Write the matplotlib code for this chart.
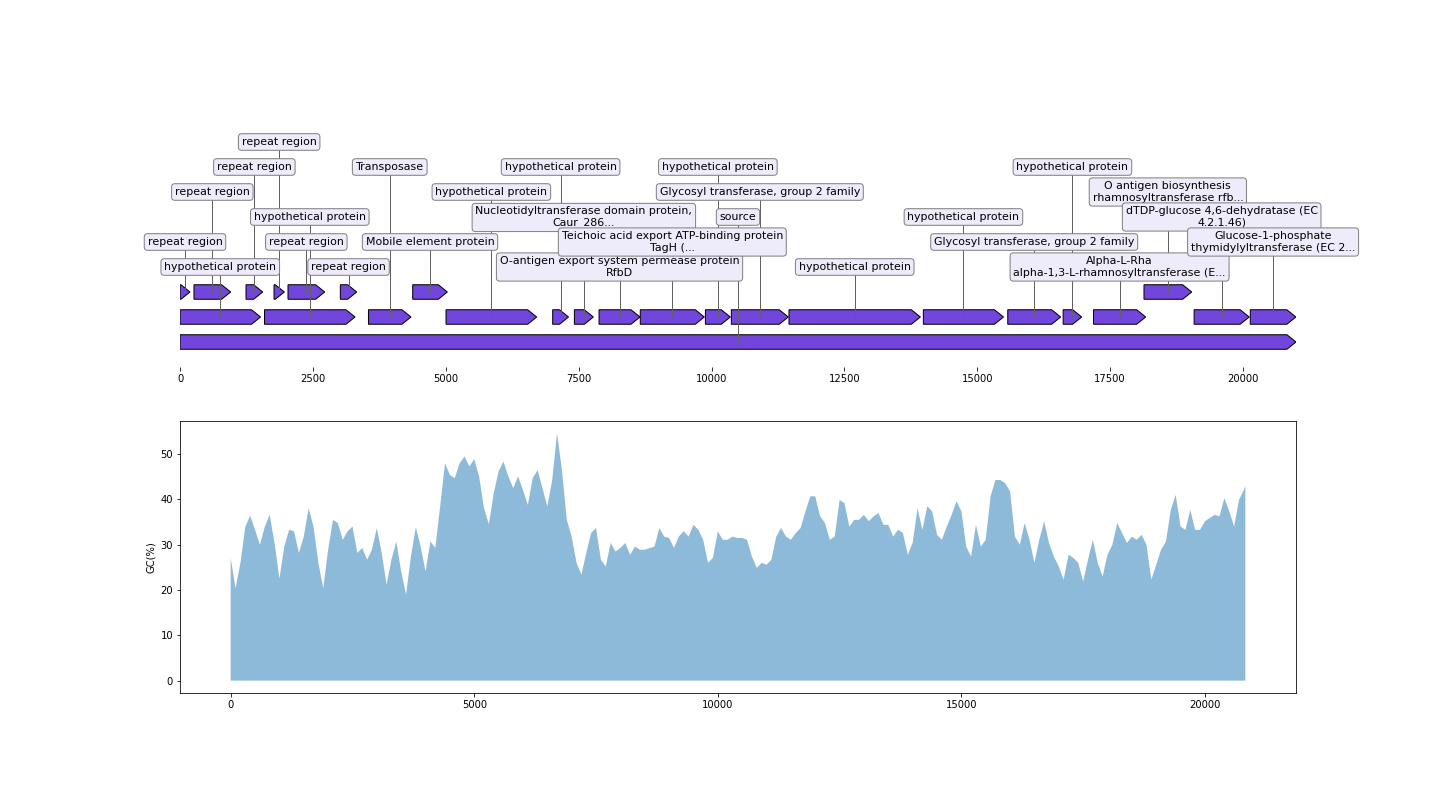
import numpy as np
import matplotlib
matplotlib.use('Agg')
import matplotlib.pyplot as plt
from matplotlib.patches import Polygon

SEQ_LEN = 20997

# features, in record order
feat_start = [0, 0, 0, 263, 1242, 1590, 1769, 2032, 3017, 3546, 4378, 5005, 7012,
              7420, 7884, 8660, 9885, 10373, 11458, 13986, 15574, 16616, 17187,
              18137, 19080, 20137]
feat_end = [20997, 188, 1515, 953, 1556, 3293, 1963, 2722, 3325, 4346, 5030, 6711, 7310,
            7777, 8655, 9865, 10354, 11445, 13930, 15494, 16569, 16965, 18169,
            19035, 20117, 20995]
feat_label = [
    'source', 'repeat region', 'hypothetical protein', 'repeat region', 'repeat region',
    'hypothetical protein', 'repeat region', 'repeat region', 'repeat region',
    'Transposase', 'Mobile element protein', 'hypothetical protein', 'hypothetical protein',
    'Nucleotidyltransferase domain protein,\nCaur_286...',
    'O-antigen export system permease protein\nRfbD',
    'Teichoic acid export ATP-binding protein\nTagH (...',
    'hypothetical protein', 'Glycosyl transferase, group 2 family',
    'hypothetical protein', 'hypothetical protein', 'Glycosyl transferase, group 2 family',
    'hypothetical protein', 'Alpha-L-Rha\nalpha-1,3-L-rhamnosyltransferase (E...',
    'O antigen biosynthesis\nrhamnosyltransferase rfb...',
    'dTDP-glucose 4,6-dehydratase (EC\n4.2.1.46)',
    'Glucose-1-phosphate\nthymidylyltransferase (EC 2...']
# row of the feature and row of its label
feat_row = [0, 2, 1, 2, 2, 1, 2, 2, 2, 1, 2, 1, 1, 1, 1, 1, 1, 1, 1, 1, 1, 1, 1, 2, 1, 1]
label_row = [5, 4, 3, 6, 7, 5, 8, 4, 3, 7, 4, 6, 7, 5, 3, 4, 7, 6, 3, 5, 4, 7, 3, 6, 5, 4]

# GC content (%), sampled every 100 bp
gc_values = [
    27.1, 20.4, 26.0, 34.0, 36.4, 33.3, 30.0, 34.0, 36.6, 30.4,
    22.5, 29.6, 33.3, 33.0, 28.2, 31.8, 38.1, 34.0, 26.0, 20.4,
    28.9, 35.5, 34.8, 31.1, 33.0, 34.0, 28.2, 29.3, 26.7, 28.9,
    33.7, 28.2, 21.2, 26.7, 30.7, 24.1, 19.0, 27.4, 33.9, 29.6,
    24.1, 30.7, 29.3, 38.5, 48.0, 45.4, 44.7, 48.0, 49.5, 47.3,
    48.9, 45.1, 38.1, 34.5, 41.4, 46.2, 48.4, 45.1, 42.5, 45.1,
    42.1, 38.8, 44.7, 46.5, 42.5, 38.5, 44.3, 54.6, 46.5, 35.5,
    31.8, 26.0, 23.4, 28.2, 32.6, 33.7, 26.7, 25.2, 30.4, 28.5,
    29.3, 30.4, 27.8, 29.6, 28.9, 28.9, 29.3, 29.6, 33.7, 31.8,
    31.5, 29.3, 31.8, 33.0, 31.8, 34.4, 33.3, 31.1, 26.0, 27.1,
    33.0, 31.1, 31.1, 31.8, 31.5, 31.5, 31.1, 27.4, 24.9, 26.0,
    25.6, 26.7, 31.8, 33.7, 31.8, 31.1, 32.6, 33.7, 37.4, 40.7,
    40.7, 36.3, 34.8, 31.1, 31.8, 39.9, 39.2, 34.0, 35.5, 35.5,
    36.6, 35.2, 36.3, 37.0, 34.4, 34.4, 31.8, 33.3, 32.6, 27.8,
    30.4, 38.1, 33.3, 38.5, 37.4, 32.2, 31.1, 34.0, 36.6, 39.6,
    37.4, 29.6, 27.4, 34.4, 29.6, 31.1, 40.7, 44.3, 44.3, 43.6,
    41.8, 31.8, 30.0, 34.8, 31.1, 26.0, 31.1, 35.2, 30.4, 27.4,
    25.2, 22.3, 27.8, 27.1, 26.0, 21.9, 26.7, 31.1, 26.0, 23.0,
    27.8, 30.0, 34.8, 32.6, 30.4, 31.8, 31.1, 32.2, 30.0, 22.3,
    25.6, 28.9, 30.7, 37.7, 41.0, 34.0, 33.3, 37.7, 33.3, 33.3,
    35.2, 35.9, 36.6, 36.3, 40.3, 37.4, 34.0, 39.9, 42.1, 43.0]
gc_pos = list(range(0, 20801, 100)) + [20830]

FEAT_COLOR = '#7245dc'
BOX_COLOR = '#eeebfa'
HALF_H = 0.29
HEAD = 170


def arrow_points(start, end, y):
    head = min(HEAD, end - start)
    return [(start, y - HALF_H), (end - head, y - HALF_H), (end, y),
            (end - head, y + HALF_H), (start, y + HALF_H)]


fig = plt.figure(figsize=(20, 11), dpi=72)
ax1 = fig.add_axes([0.125, 1 - 367 / 792, 0.775, 272 / 792])
ax2 = fig.add_axes([0.125, 1 - 693 / 792, 0.775, 272 / 792])

# top: feature map
for i in range(len(feat_start)):
    s, e, r = feat_start[i], feat_end[i], feat_row[i]
    poly = Polygon(arrow_points(s, e, r), closed=True, fc=FEAT_COLOR, ec='black',
                   lw=1.0, zorder=2)
    ax1.add_patch(poly)
    xc = (s + e) / 2
    ax1.plot([xc, xc], [r, label_row[i]], color='0.38', lw=1.0, zorder=3)
    ax1.text(xc, label_row[i], feat_label[i], ha='center', va='center',
             multialignment='center', fontsize=11, zorder=4 + i,
             bbox=dict(boxstyle='round,pad=0.3', fc=BOX_COLOR, ec='0.5', lw=1))

ax1.set_xlim(0, SEQ_LEN)
ax1.set_ylim(-1, 9.88)
for side in ['top', 'left', 'right', 'bottom']:
    ax1.spines[side].set_visible(False)
ax1.set_yticks([])
ax1.set_xticks(np.arange(0, 20001, 2500))
ax1.tick_params(axis='x', labelsize=10)

# bottom: GC content
ax2.fill_between(gc_pos, gc_values, alpha=0.5)
ax2.set_xlim(-1041, 21870)
ax2.set_ylim(-2.73, 57.33)
ax2.set_ylabel('GC(%)', fontsize=10)
ax2.tick_params(labelsize=10)

fig.savefig('out.png', dpi=72)
